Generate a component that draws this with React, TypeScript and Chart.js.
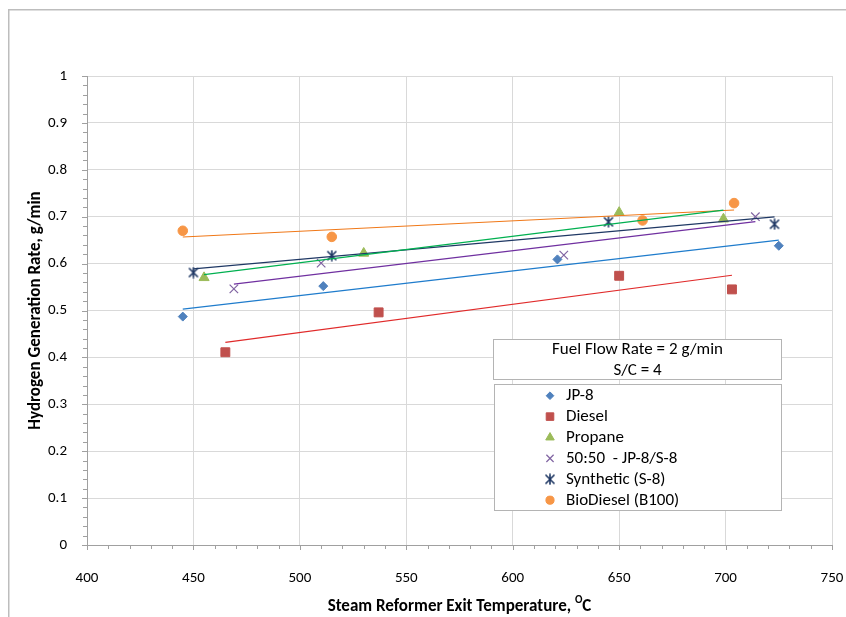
import React, { useEffect, useRef } from 'react';
import { Chart, registerables } from 'chart.js';
import { drawPoint } from 'chart.js/helpers';

Chart.register(...registerables);

// ---------- data ----------
const seriesNames = ['JP-8', 'Diesel', 'Propane', '50:50  - JP-8/S-8', 'Synthetic (S-8)', 'BioDiesel (B100)'];

const jp8Temp = [445, 511, 621, 725];
const jp8Rate = [0.487, 0.552, 0.609, 0.638];

const dieselTemp = [465, 537, 650, 703];
const dieselRate = [0.411, 0.496, 0.574, 0.545];

const propaneTemp = [455, 530, 650, 699];
const propaneRate = [0.570, 0.622, 0.709, 0.695];

const blendTemp = [469, 510, 624, 714];
const blendRate = [0.546, 0.601, 0.618, 0.700];

const syntheticTemp = [450, 515, 645, 723];
const syntheticRate = [0.581, 0.617, 0.689, 0.684];

const bioTemp = [445, 515, 661, 704];
const bioRate = [0.670, 0.657, 0.692, 0.729];

const xMin = 400;
const xMax = 750;
const xStep = 50;
const yMin = 0;
const yMax = 1;
const yStep = 0.1;

const xTitle = 'Steam Reformer Exit Temperature, ';
const xTitleSup = 'O';
const xTitleEnd = 'C';
const yTitle = 'Hydrogen Generation Rate, g/min';
const noteLines = ['Fuel Flow Rate = 2 g/min', 'S/C = 4'];

const FONT = 'Carlito, Calibri, Lato, sans-serif';

function makeAsterisk(color: string): HTMLCanvasElement {
  const c = document.createElement('canvas');
  c.width = 12;
  c.height = 12;
  const g = c.getContext('2d')!;
  g.strokeStyle = color;
  g.lineWidth = 1.6;
  g.beginPath();
  g.moveTo(1.5, 1.5); g.lineTo(10.5, 10.5);
  g.moveTo(10.5, 1.5); g.lineTo(1.5, 10.5);
  g.moveTo(6, 0.5); g.lineTo(6, 11.5);
  g.stroke();
  return c;
}

function trend(xs: number[], ys: number[]) {
  const n = xs.length;
  const mx = xs.reduce((a, b) => a + b, 0) / n;
  const my = ys.reduce((a, b) => a + b, 0) / n;
  let sxy = 0, sxx = 0;
  for (let i = 0; i < n; i++) {
    sxy += (xs[i] - mx) * (ys[i] - my);
    sxx += (xs[i] - mx) * (xs[i] - mx);
  }
  const b = sxy / sxx;
  const a = my - b * mx;
  const lo = Math.min(...xs);
  const hi = Math.max(...xs);
  return [{ x: lo, y: a + b * lo }, { x: hi, y: a + b * hi }];
}

const pts = (xs: number[], ys: number[]) => xs.map((x, i) => ({ x, y: ys[i] }));

export default function App() {
  const ref = useRef<HTMLCanvasElement | null>(null);

  useEffect(() => {
    document.body.style.margin = '0';
    const canvas = ref.current!;
    const asterisk = makeAsterisk('#1f3864');

    const series = [
      { name: seriesNames[0], xs: jp8Temp, ys: jp8Rate, style: 'rectRot', r: 4.5, fill: '#4f81bd', line: '#1f7ccc' },
      { name: seriesNames[1], xs: dieselTemp, ys: dieselRate, style: 'rect', r: 6.3, fill: '#c0504d', line: '#e02a2a' },
      { name: seriesNames[2], xs: propaneTemp, ys: propaneRate, style: 'triangle', r: 5.8, fill: '#9bbb59', line: '#00b050' },
      { name: seriesNames[3], xs: blendTemp, ys: blendRate, style: 'crossRot', r: 6, fill: '#8064a2', line: '#7030a0' },
      { name: seriesNames[4], xs: syntheticTemp, ys: syntheticRate, style: asterisk, r: 6, fill: '#1f3864', line: '#1f3864' },
      { name: seriesNames[5], xs: bioTemp, ys: bioRate, style: 'circle', r: 4.8, fill: '#f79646', line: '#f07818' },
    ];

    const datasets: any[] = [];
    series.forEach((s) => {
      datasets.push({
        type: 'line',
        label: s.name + ' trend',
        data: trend(s.xs, s.ys),
        borderColor: s.line,
        borderWidth: 1.2,
        pointRadius: 0,
        showLine: true,
        fill: false,
      });
    });
    series.forEach((s) => {
      datasets.push({
        type: 'scatter',
        label: s.name,
        data: pts(s.xs, s.ys),
        pointStyle: s.style,
        pointRadius: s.r,
        pointBackgroundColor: s.fill,
        pointBorderColor: s.fill,
        pointBorderWidth: s.style === 'crossRot' ? 1.2 : 1,
        showLine: false,
      });
    });

    const decor = {
      id: 'decor',
      beforeDraw(chart: any) {
        const ctx = chart.ctx;
        ctx.save();
        ctx.strokeStyle = '#bdbdbd';
        ctx.lineWidth = 1.5;
        ctx.beginPath();
        ctx.moveTo(8.75, 700);
        ctx.lineTo(8.75, 9.75);
        ctx.lineTo(900, 9.75);
        ctx.stroke();
        ctx.restore();
      },
      afterDraw(chart: any) {
        const ctx = chart.ctx;
        const xs = chart.scales.x;
        const ys = chart.scales.y;
        const area = chart.chartArea;
        ctx.save();
        // tick marks
        ctx.strokeStyle = '#a0a0a0';
        ctx.lineWidth = 1;
        ctx.beginPath();
        for (let v = xMin; v <= xMax + 1e-9; v += 10) {
          const px = Math.round(xs.getPixelForValue(v)) + 0.5;
          const major = Math.abs((v - xMin) % xStep) < 1e-6;
          ctx.moveTo(px, area.bottom);
          ctx.lineTo(px, area.bottom + (major ? 5 : 4));
        }
        for (let k = 0; k <= 50; k++) {
          const v = k * 0.02;
          const py = Math.round(ys.getPixelForValue(v)) + 0.5;
          const major = k % 5 === 0;
          ctx.moveTo(area.left, py);
          ctx.lineTo(area.left - (major ? 5 : 4), py);
        }
        ctx.stroke();

        // axis titles
        ctx.fillStyle = '#000';
        ctx.textBaseline = 'alphabetic';
        ctx.font = `bold 17px ${FONT}`;
        const w1 = ctx.measureText(xTitle).width;
        const w3 = ctx.measureText(xTitleEnd).width;
        ctx.font = `bold 11px ${FONT}`;
        const w2 = ctx.measureText(xTitleSup).width;
        const total = w1 + w2 + w3;
        const cx = (area.left + area.right) / 2;
        const sx = cx - total / 2;
        ctx.textAlign = 'left';
        ctx.font = `bold 17px ${FONT}`;
        ctx.fillText(xTitle, sx, 611);
        ctx.font = `bold 11px ${FONT}`;
        ctx.fillText(xTitleSup, sx + w1, 603);
        ctx.font = `bold 17px ${FONT}`;
        ctx.fillText(xTitleEnd, sx + w1 + w2, 611);

        ctx.save();
        ctx.translate(36, (area.top + area.bottom) / 2);
        ctx.rotate(-Math.PI / 2);
        ctx.textAlign = 'center';
        ctx.textBaseline = 'middle';
        ctx.font = `bold 17px ${FONT}`;
        ctx.fillText(yTitle, 0, 0);
        ctx.restore();

        // note box
        ctx.fillStyle = '#fff';
        ctx.strokeStyle = '#b4b4b4';
        ctx.lineWidth = 1;
        ctx.fillRect(493, 339, 289, 40);
        ctx.strokeRect(493.5, 339.5, 288, 40);
        ctx.fillStyle = '#000';
        ctx.font = `17px ${FONT}`;
        ctx.textAlign = 'center';
        ctx.textBaseline = 'middle';
        ctx.fillText(noteLines[0], 637.5, 350);
        ctx.fillText(noteLines[1], 637.5, 371);

        // legend box
        ctx.fillStyle = '#fff';
        ctx.fillRect(494, 384, 287, 126);
        ctx.strokeRect(494.5, 384.5, 287, 126);
        ctx.textAlign = 'left';
        series.forEach((s, i) => {
          const yy = 395.7 + i * 20.9;
          ctx.fillStyle = s.fill;
          ctx.strokeStyle = s.fill;
          ctx.lineWidth = s.style === 'crossRot' ? 1.2 : 1;
          drawPoint(ctx, { pointStyle: s.style as any, radius: s.r * 0.85, borderWidth: 1, rotation: 0 }, 550, yy);
          ctx.fillStyle = '#000';
          ctx.fillText(s.name, 566, yy + 0.5);
        });
        ctx.restore();
      },
    };

    const chart = new Chart(canvas, {
      type: 'scatter',
      data: { datasets },
      options: {
        animation: false,
        responsive: false,
        events: [],
        layout: { padding: { top: 76, right: 14, left: 0, bottom: 0 } },
        plugins: { legend: { display: false }, tooltip: { enabled: false }, title: { display: false } },
        scales: {
          x: {
            type: 'linear',
            min: xMin,
            max: xMax,
            afterFit: (s: any) => { s.height = 72; s.paddingLeft = 0; s.paddingRight = 0; },
            ticks: {
              stepSize: xStep,
              padding: 24,
              color: '#000',
              font: { family: FONT, size: 15 },
              maxRotation: 0,
            },
            grid: { color: '#d9d9d9', lineWidth: 1, drawTicks: false },
            border: { color: '#a0a0a0', width: 1 },
          },
          y: {
            type: 'linear',
            min: yMin,
            max: yMax,
            afterFit: (s: any) => { s.width = 87; s.paddingTop = 0; s.paddingBottom = 0; },
            ticks: {
              stepSize: yStep,
              padding: 20,
              color: '#000',
              font: { family: FONT, size: 15 },
              callback: (v: any) => String(Math.round(Number(v) * 10) / 10),
            },
            grid: { color: '#d9d9d9', lineWidth: 1, drawTicks: false },
            border: { color: '#a0a0a0', width: 1 },
          },
        },
      },
      plugins: [decor],
    });

    return () => chart.destroy();
  }, []);

  return (
    <div style={{ width: 846, height: 617, background: '#fff' }}>
      <canvas ref={ref} width={846} height={617} style={{ display: 'block' }} />
    </div>
  );
}
